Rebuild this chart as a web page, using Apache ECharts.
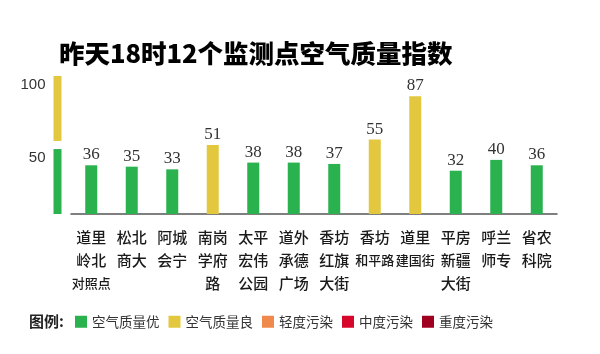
<!DOCTYPE html>
<html>
<head>
<meta charset="utf-8">
<script src="https://cdn.jsdelivr.net/npm/echarts@6/dist/echarts.min.js"></script>
<style>
  html, body { margin: 0; padding: 0; background: #fff; }
  #chart { width: 600px; height: 354px; }
</style>
</head>
<body>
<div id="chart"></div>
<script>
// stations (axis labels, {s|...} = the smaller three-char names)
var stations = [
    '道里\n岭北\n{s|对照点}', '松北\n商大', '阿城\n会宁', '南岗\n学府\n路',
    '太平\n宏伟\n公园', '道外\n承德\n广场', '香坊\n红旗\n大街', '香坊\n{s|和平路}',
    '道里\n{s|建国街}', '平房\n新疆\n大街', '呼兰\n师专', '省农\n科院'
];
var aqi = [36, 35, 33, 51, 38, 38, 37, 55, 87, 32, 40, 36];

// the little scale bar on the left: green block, gap, yellow block
var scaleValues = [48, 6, 48];
var scaleLabels = ['50', '', '100'];

var levels = ['空气质量优', '空气质量良', '轻度污染', '中度污染', '重度污染'];
var levelColors = ['#2ab24f', '#e3c83f', '#ef8a4c', '#d7072b', '#a00020'];
var levelMax = [50, 100, 150, 200, 300];

var yMax = 102;

function levelData (i) {
    var lo = i === 0 ? -Infinity : levelMax[i - 1];
    return aqi.map(function (v) { return (v > lo && v <= levelMax[i]) ? v : '-'; });
}

var series = levels.map(function (name, i) {
    return {
        name: name,
        type: 'bar',
        stack: 'aqi',
        xAxisIndex: 1,
        yAxisIndex: 1,
        barWidth: 12,
        itemStyle: { color: levelColors[i] },
        label: {
            show: true,
            position: 'top',
            distance: 2,
            fontFamily: 'Liberation Serif',
            fontSize: 17,
            color: '#333'
        },
        data: levelData(i)
    };
});

var scaleColors = [levelColors[0], 'rgba(0,0,0,0)', levelColors[1]];
scaleValues.forEach(function (v, i) {
    series.push({
        type: 'bar',
        stack: 'scale',
        xAxisIndex: 0,
        yAxisIndex: 0,
        barWidth: 8,
        silent: true,
        itemStyle: { color: scaleColors[i] },
        label: {
            show: scaleLabels[i] !== '',
            position: [-8, 9],
            align: 'right',
            verticalAlign: 'middle',
            formatter: scaleLabels[i],
            fontFamily: 'Liberation Sans, Arial, sans-serif',
            fontSize: 15,
            color: '#333'
        },
        data: [v]
    });
});

var chart = echarts.init(document.getElementById('chart'));
chart.setOption({
    animation: false,
    backgroundColor: '#fff',
    title: [{
        text: '昨天18时12个监测点空气质量指数',
        left: 54,
        top: 36,
        textStyle: { fontFamily: 'Noto Sans CJK SC', fontSize: 25.5, fontWeight: 900, color: '#000' }
    }, {
        text: '图例:',
        left: 24,
        top: 309,
        textStyle: { fontFamily: 'Noto Sans CJK SC', fontSize: 15, fontWeight: 'bold', color: '#222' }
    }],
    legend: {
        data: levels,
        left: 70,
        top: 310,
        icon: 'rect',
        itemWidth: 12,
        itemHeight: 12,
        itemGap: 9,
        selectedMode: false,
        textStyle: { fontFamily: 'Noto Sans CJK SC', fontSize: 13.5, color: '#333' }
    },
    grid: [
        { left: 50, width: 15, top: 76, bottom: 140 },
        { left: 71, right: 43, top: 76, bottom: 140 }
    ],
    xAxis: [{
        gridIndex: 0,
        type: 'category',
        data: [''],
        show: false
    }, {
        gridIndex: 1,
        type: 'category',
        data: stations,
        axisLine: { lineStyle: { color: '#555', width: 1.5 } },
        axisTick: { show: false },
        axisLabel: {
            interval: 0,
            margin: 12,
            fontFamily: 'Noto Sans CJK SC',
            fontSize: 15,
            fontWeight: 500,
            lineHeight: 23,
            color: '#1a1a1a',
            rich: {
                s: { fontFamily: 'Noto Sans CJK SC', fontSize: 13, lineHeight: 23, color: '#1a1a1a' }
            }
        }
    }],
    yAxis: [{
        gridIndex: 0, type: 'value', min: 0, max: yMax, show: false
    }, {
        gridIndex: 1, type: 'value', min: 0, max: yMax, show: false
    }],
    series: series
});
</script>
</body>
</html>
